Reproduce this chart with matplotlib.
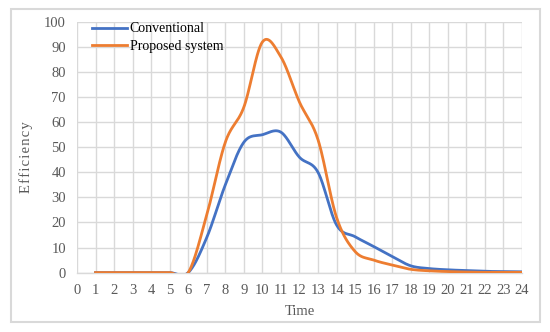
import numpy as np
import matplotlib.pyplot as plt
from matplotlib.patches import Rectangle

hours = list(range(1, 25))
conventional = [0, 0, 0, 0, 0, 0, 14, 35, 52, 55, 56, 46, 40, 19, 14.3, 10.4, 6.4, 2.7,
                1.6, 1.1, 0.8, 0.5, 0.4, 0.3]
proposed = [0, 0, 0, 0, 0, 0, 23, 52, 66, 92, 86, 68, 53, 22, 8.4, 5, 3, 1.3,
            0.7, 0.4, 0.2, 0.1, 0.1, 0.1]


def smooth(xs, ys, n=30):
    # excel-like smoothed line (bezier through points, catmull-rom handles)
    xs = np.asarray(xs, float)
    ys = np.asarray(ys, float)
    px = np.concatenate([[xs[0]], xs, [xs[-1]]])
    py = np.concatenate([[ys[0]], ys, [ys[-1]]])
    out_x, out_y = [], []
    t = np.linspace(0, 1, n)
    for i in range(1, len(px) - 2):
        p0 = np.array([px[i], py[i]])
        p3 = np.array([px[i + 1], py[i + 1]])
        p1 = p0 + (np.array([px[i + 1], py[i + 1]]) - np.array([px[i - 1], py[i - 1]])) / 6
        p2 = p3 - (np.array([px[i + 2], py[i + 2]]) - np.array([px[i], py[i]])) / 6
        b = ((1 - t) ** 3)[:, None] * p0 + (3 * (1 - t) ** 2 * t)[:, None] * p1 \
            + (3 * (1 - t) * t ** 2)[:, None] * p2 + (t ** 3)[:, None] * p3
        out_x.extend(b[:, 0])
        out_y.extend(b[:, 1])
    return out_x, out_y


plt.rcParams['font.family'] = ['Liberation Serif', 'DejaVu Serif']

fig = plt.figure(figsize=(5.5, 3.32), dpi=100)
ax = fig.add_axes([0.14, 0.179, 0.809, 0.755])

fig.patches.append(Rectangle((11 / 550, 1 - 322 / 332), 529 / 550, 313 / 332,
                             transform=fig.transFigure, fill=False,
                             edgecolor='#d9d9d9', linewidth=1.5))

x, y = smooth(hours, conventional)
ax.plot(x, y, color='#4472C4', linewidth=2, label='Conventional', zorder=3)
x, y = smooth(hours, proposed)
ax.plot(x, y, color='#ED7D31', linewidth=2, label='Proposed system', zorder=4)

ax.set_xlim(0, 24)
ax.set_ylim(0, 100)
ax.set_xticks(range(0, 25))
ax.set_yticks(range(0, 101, 10))
ax.grid(True, color='#d9d9d9', linewidth=1)
ax.set_axisbelow(True)
for s in ['top', 'right', 'left']:
    ax.spines[s].set_visible(False)
ax.spines['bottom'].set_color('#d9d9d9')
ax.spines['bottom'].set_linewidth(1)
ax.tick_params(length=0, labelsize=10.5, colors='#595959')
ax.tick_params(axis='y', pad=8)
ax.tick_params(axis='x', pad=8)

ax.set_xlabel('Time', fontsize=10.5, color='#595959', labelpad=6)
ax.set_ylabel('\u200a'.join('Efficiency'), fontsize=10.5, color='#595959')
ax.yaxis.set_label_coords(-0.099, 0.46)

ax.legend(loc='upper left', bbox_to_anchor=(0.022, 1.02), frameon=False,
          fontsize=10, handlelength=2.5, handletextpad=0.2, labelspacing=0.35,
          borderaxespad=0)

fig.savefig('out.png', dpi=100)
